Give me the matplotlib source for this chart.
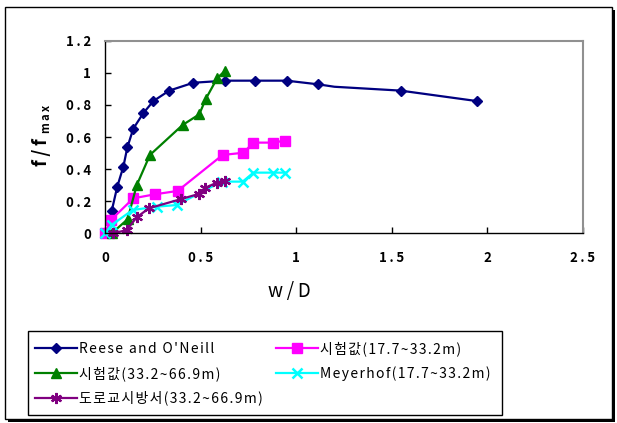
import numpy as np
import matplotlib
matplotlib.use("Agg")
import matplotlib.pyplot as plt
from matplotlib.patches import Rectangle

plt.rcParams['font.family'] = ['Noto Sans CJK KR', 'DejaVu Sans']

# data
reese_x = [0.035, 0.064, 0.096, 0.117, 0.148, 0.20, 0.253, 0.336, 0.462, 0.628, 0.786, 0.95, 1.116, 1.20, 1.546, 1.944]
reese_y = [0.139, 0.29, 0.415, 0.536, 0.652, 0.748, 0.824, 0.889, 0.938, 0.951, 0.951, 0.951, 0.928, 0.913, 0.889, 0.824]
reese_marked = [0, 1, 2, 3, 4, 5, 6, 7, 8, 9, 10, 11, 12, 14, 15]

test1_x = [0.0, 0.031, 0.148, 0.261, 0.38, 0.615, 0.724, 0.776, 0.877, 0.941]
test1_y = [0.0, 0.083, 0.218, 0.243, 0.264, 0.488, 0.502, 0.565, 0.565, 0.577]

test2_x = [0.035, 0.118, 0.166, 0.235, 0.406, 0.493, 0.527, 0.588, 0.629]
test2_y = [0.0, 0.087, 0.30, 0.488, 0.675, 0.741, 0.837, 0.969, 1.013]

meyer_x = [0.0, 0.035, 0.144, 0.27, 0.375, 0.61, 0.72, 0.776, 0.88, 0.94]
meyer_y = [0.0, 0.052, 0.145, 0.166, 0.176, 0.322, 0.322, 0.378, 0.378, 0.378]

road_x = [0.043, 0.113, 0.166, 0.23, 0.40, 0.49, 0.525, 0.584, 0.628]
road_y = [0.0, 0.02, 0.10, 0.156, 0.214, 0.245, 0.284, 0.315, 0.328]

xticks = [0, 0.5, 1, 1.5, 2, 2.5]
yticks = [0, 0.2, 0.4, 0.6, 0.8, 1, 1.2]


def spaced(s, sep='\u2009'):
    return sep.join(s)


fig = plt.figure(figsize=(6.17, 4.23), dpi=100)
W, H = 617, 423

# outer frame with shadow
fig.patches.append(Rectangle((8 / W, 1 / H), 607 / W, 412 / H, transform=fig.transFigure,
                             facecolor='black', edgecolor='none', zorder=0))
fig.patches.append(Rectangle((5 / W, 4 / H), 607 / W, 412 / H, transform=fig.transFigure,
                             facecolor='white', edgecolor='black', lw=1, zorder=1))
# legend box
fig.patches.append(Rectangle((28 / W, 8 / H), 474 / W, 84 / H, transform=fig.transFigure,
                             facecolor='white', edgecolor='black', lw=1, zorder=2))

ax = fig.add_axes([105 / W, (H - 233.3) / H, 478 / W, 192.6 / H])
ax.set_zorder(2)

kw = dict(lw=1.6, clip_on=False)
l1, = ax.plot(reese_x, reese_y, color='#000080', marker='D', ms=5.5,
              markevery=reese_marked, label=spaced("Reese and O'Neill", '\u200a'), **kw)
l2, = ax.plot(test1_x, test1_y, color='#FF00FF', marker='s', ms=6.5,
              label=spaced('시험값(17.7~33.2m)', '\u200a'), **kw)
l3, = ax.plot(test2_x, test2_y, color='#008000', marker='^', ms=7,
              label=spaced('시험값(33.2~66.9m)', '\u200a'), **kw)
l4, = ax.plot(meyer_x, meyer_y, color='#00FFFF', marker='x', ms=7, mew=1.8,
              label=spaced('Meyerhof(17.7~33.2m)', '\u200a'), **kw)
l5, = ax.plot(road_x, road_y, color='#800080', marker=(6, 2, 0), ms=8, mew=1.6,
              label=spaced('도로교시방서(33.2~66.9m)', '\u200a'), **kw)

ax.set_xlim(0, 2.5)
ax.set_ylim(0, 1.2)
ax.set_xticks(xticks)
ax.set_yticks(yticks)
ax.set_xticklabels([spaced(f'{t:g}') for t in xticks], fontweight='bold', fontsize=9.5)
ax.set_yticklabels([spaced(f'{t:g}') for t in yticks], fontweight='bold', fontsize=9.5)
ax.tick_params(direction='in', length=4, width=1)
ax.tick_params(axis='x', pad=13)
ax.tick_params(axis='y', pad=10)
for side in ['top', 'right']:
    ax.spines[side].set_color('#909090')
    ax.spines[side].set_linewidth(1.5)
for side in ['left', 'bottom']:
    ax.spines[side].set_linewidth(1.0)

fig.text(289 / W, 1 - 292 / H, spaced('w/D'), fontsize=13.5, ha='center', va='center', zorder=3)
# y label: "f / f" with a small "max" subscript
fig.text(42 / W, 1 - 152 / H, spaced('f/f'), fontsize=13, fontweight='bold',
         rotation=90, ha='center', va='center', zorder=3)
fig.text(46 / W, 1 - 119 / H, spaced('max'), fontsize=8, fontweight='bold',
         rotation=90, ha='center', va='center', zorder=3)

leg = fig.legend(handles=[l1, l3, l5, l2, l4], ncol=2, loc='upper left',
                 bbox_to_anchor=(35 / W, 1 - 341 / H), borderaxespad=0, borderpad=0,
                 frameon=False, fontsize=10, handlelength=3.0, handletextpad=0.15,
                 labelspacing=0.72, columnspacing=1.0)
leg.set_zorder(3)

fig.savefig('out.png', dpi=100)
